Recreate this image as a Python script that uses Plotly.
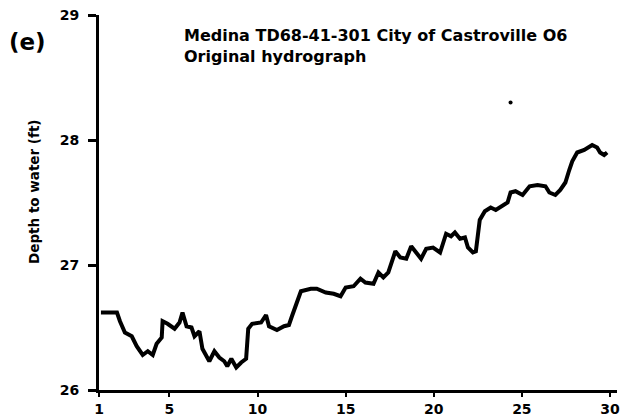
import plotly.graph_objects as go

# Hydrograph trace: time (x) and depth to water in feet (y)
time_x = [1.11, 2.02, 2.19, 2.47, 2.86, 3.14, 3.48, 3.77, 4.05, 4.27, 4.56, 4.61,
          4.89, 5.29, 5.57, 5.74, 5.97, 6.25, 6.42, 6.70, 6.87, 7.26, 7.55, 7.83,
          8.11, 8.28, 8.51, 8.79, 9.07, 9.35, 9.47, 9.69, 10.20, 10.48, 10.65, 11.10,
          11.50, 11.78, 11.95, 12.17, 12.46, 13.02, 13.36, 13.87, 14.32, 14.71, 15.00,
          15.45, 15.84, 16.12, 16.58, 16.86, 17.14, 17.42, 17.59, 17.82, 18.10, 18.44,
          18.72, 19.00, 19.28, 19.57, 19.96, 20.36, 20.70, 20.98, 21.20, 21.49, 21.77,
          21.94, 22.22, 22.39, 22.61, 22.90, 23.23, 23.52, 23.91, 24.19, 24.36, 24.64,
          25.04, 25.44, 25.89, 26.34, 26.56, 26.90, 27.18, 27.47, 27.69, 27.86, 28.14,
          28.54, 28.99, 29.27, 29.44, 29.67, 29.84]
depth_ft = [26.62, 26.62, 26.55, 26.46, 26.43, 26.35, 26.28, 26.31, 26.28, 26.37, 26.42, 26.55,
            26.53, 26.49, 26.54, 26.62, 26.51, 26.50, 26.43, 26.47, 26.33, 26.23, 26.31, 26.26,
            26.23, 26.19, 26.25, 26.18, 26.22, 26.25, 26.49, 26.53, 26.54, 26.60, 26.51, 26.48,
            26.51, 26.52, 26.59, 26.67, 26.79, 26.81, 26.81, 26.78, 26.77, 26.75, 26.82,
            26.83, 26.89, 26.86, 26.85, 26.94, 26.90, 26.94, 27.02, 27.11, 27.06, 27.05,
            27.15, 27.10, 27.05, 27.13, 27.14, 27.10, 27.25, 27.23, 27.26, 27.21, 27.22,
            27.14, 27.10, 27.11, 27.36, 27.43, 27.46, 27.44, 27.48, 27.50, 27.58, 27.59,
            27.56, 27.63, 27.64, 27.63, 27.58, 27.56, 27.60, 27.66, 27.76, 27.83, 27.90,
            27.92, 27.96, 27.94, 27.90, 27.88, 27.90]

# Single isolated reading
isolated_x = [24.36]
isolated_y = [28.30]

x_ticks = [1, 5, 10, 15, 20, 25, 30]
y_ticks = [26, 27, 28, 29]

FONT = "DejaVu Sans"

fig = go.Figure()
fig.add_trace(go.Scatter(x=time_x, y=depth_ft, mode="lines",
                         line=dict(color="black", width=4),
                         hoverinfo="skip", showlegend=False))
fig.add_trace(go.Scatter(x=isolated_x, y=isolated_y, mode="markers",
                         marker=dict(color="black", size=4),
                         hoverinfo="skip", showlegend=False))

fig.update_layout(
    width=621, height=418,
    margin=dict(l=99, r=1, t=15, b=27),
    paper_bgcolor="white", plot_bgcolor="white",
    font=dict(family=FONT, color="black"),
    showlegend=False,
)
fig.update_xaxes(
    range=[1, 30.4], tickvals=x_ticks, ticktext=[str(v) for v in x_ticks],
    showgrid=False, zeroline=False, showline=True, linecolor="black", linewidth=3,
    ticks="outside", ticklen=4, tickwidth=2, tickcolor="black",
    tickfont=dict(family=FONT, size=14, color="black", weight="bold"),
    ticklabeloverflow="allow",
)
fig.update_yaxes(
    range=[26, 29], tickvals=y_ticks, ticktext=[str(v) for v in y_ticks],
    showgrid=False, zeroline=False, showline=True, linecolor="black", linewidth=3,
    ticks="outside", ticklen=8, tickwidth=3, tickcolor="black",
    tickfont=dict(family=FONT, size=14, color="black", weight="bold"),
    ticklabelstandoff=6,
)

bold = dict(family=FONT, color="black", weight="bold")
fig.add_annotation(text="(e)", xref="paper", yref="paper", x=-99/520, y=(418-42-27)/376,
                   xanchor="left", yanchor="middle", showarrow=False,
                   font=dict(size=23, **bold), xshift=7)
fig.add_annotation(text="Medina TD68-41-301 City of Castroville O6<br>Original hydrograph",
                   xref="paper", yref="paper", align="left",
                   x=(182-99)/521, y=(418-46-27)/376, xanchor="left", yanchor="middle",
                   showarrow=False, font=dict(size=16, **bold))
fig.add_annotation(text="Depth to water (ft)", xref="paper", yref="paper",
                   x=(33-99)/521, y=(418-192-27)/376, xanchor="center", yanchor="middle",
                   textangle=-90, showarrow=False, font=dict(size=13.5, **bold))

fig.write_html("out.html")
